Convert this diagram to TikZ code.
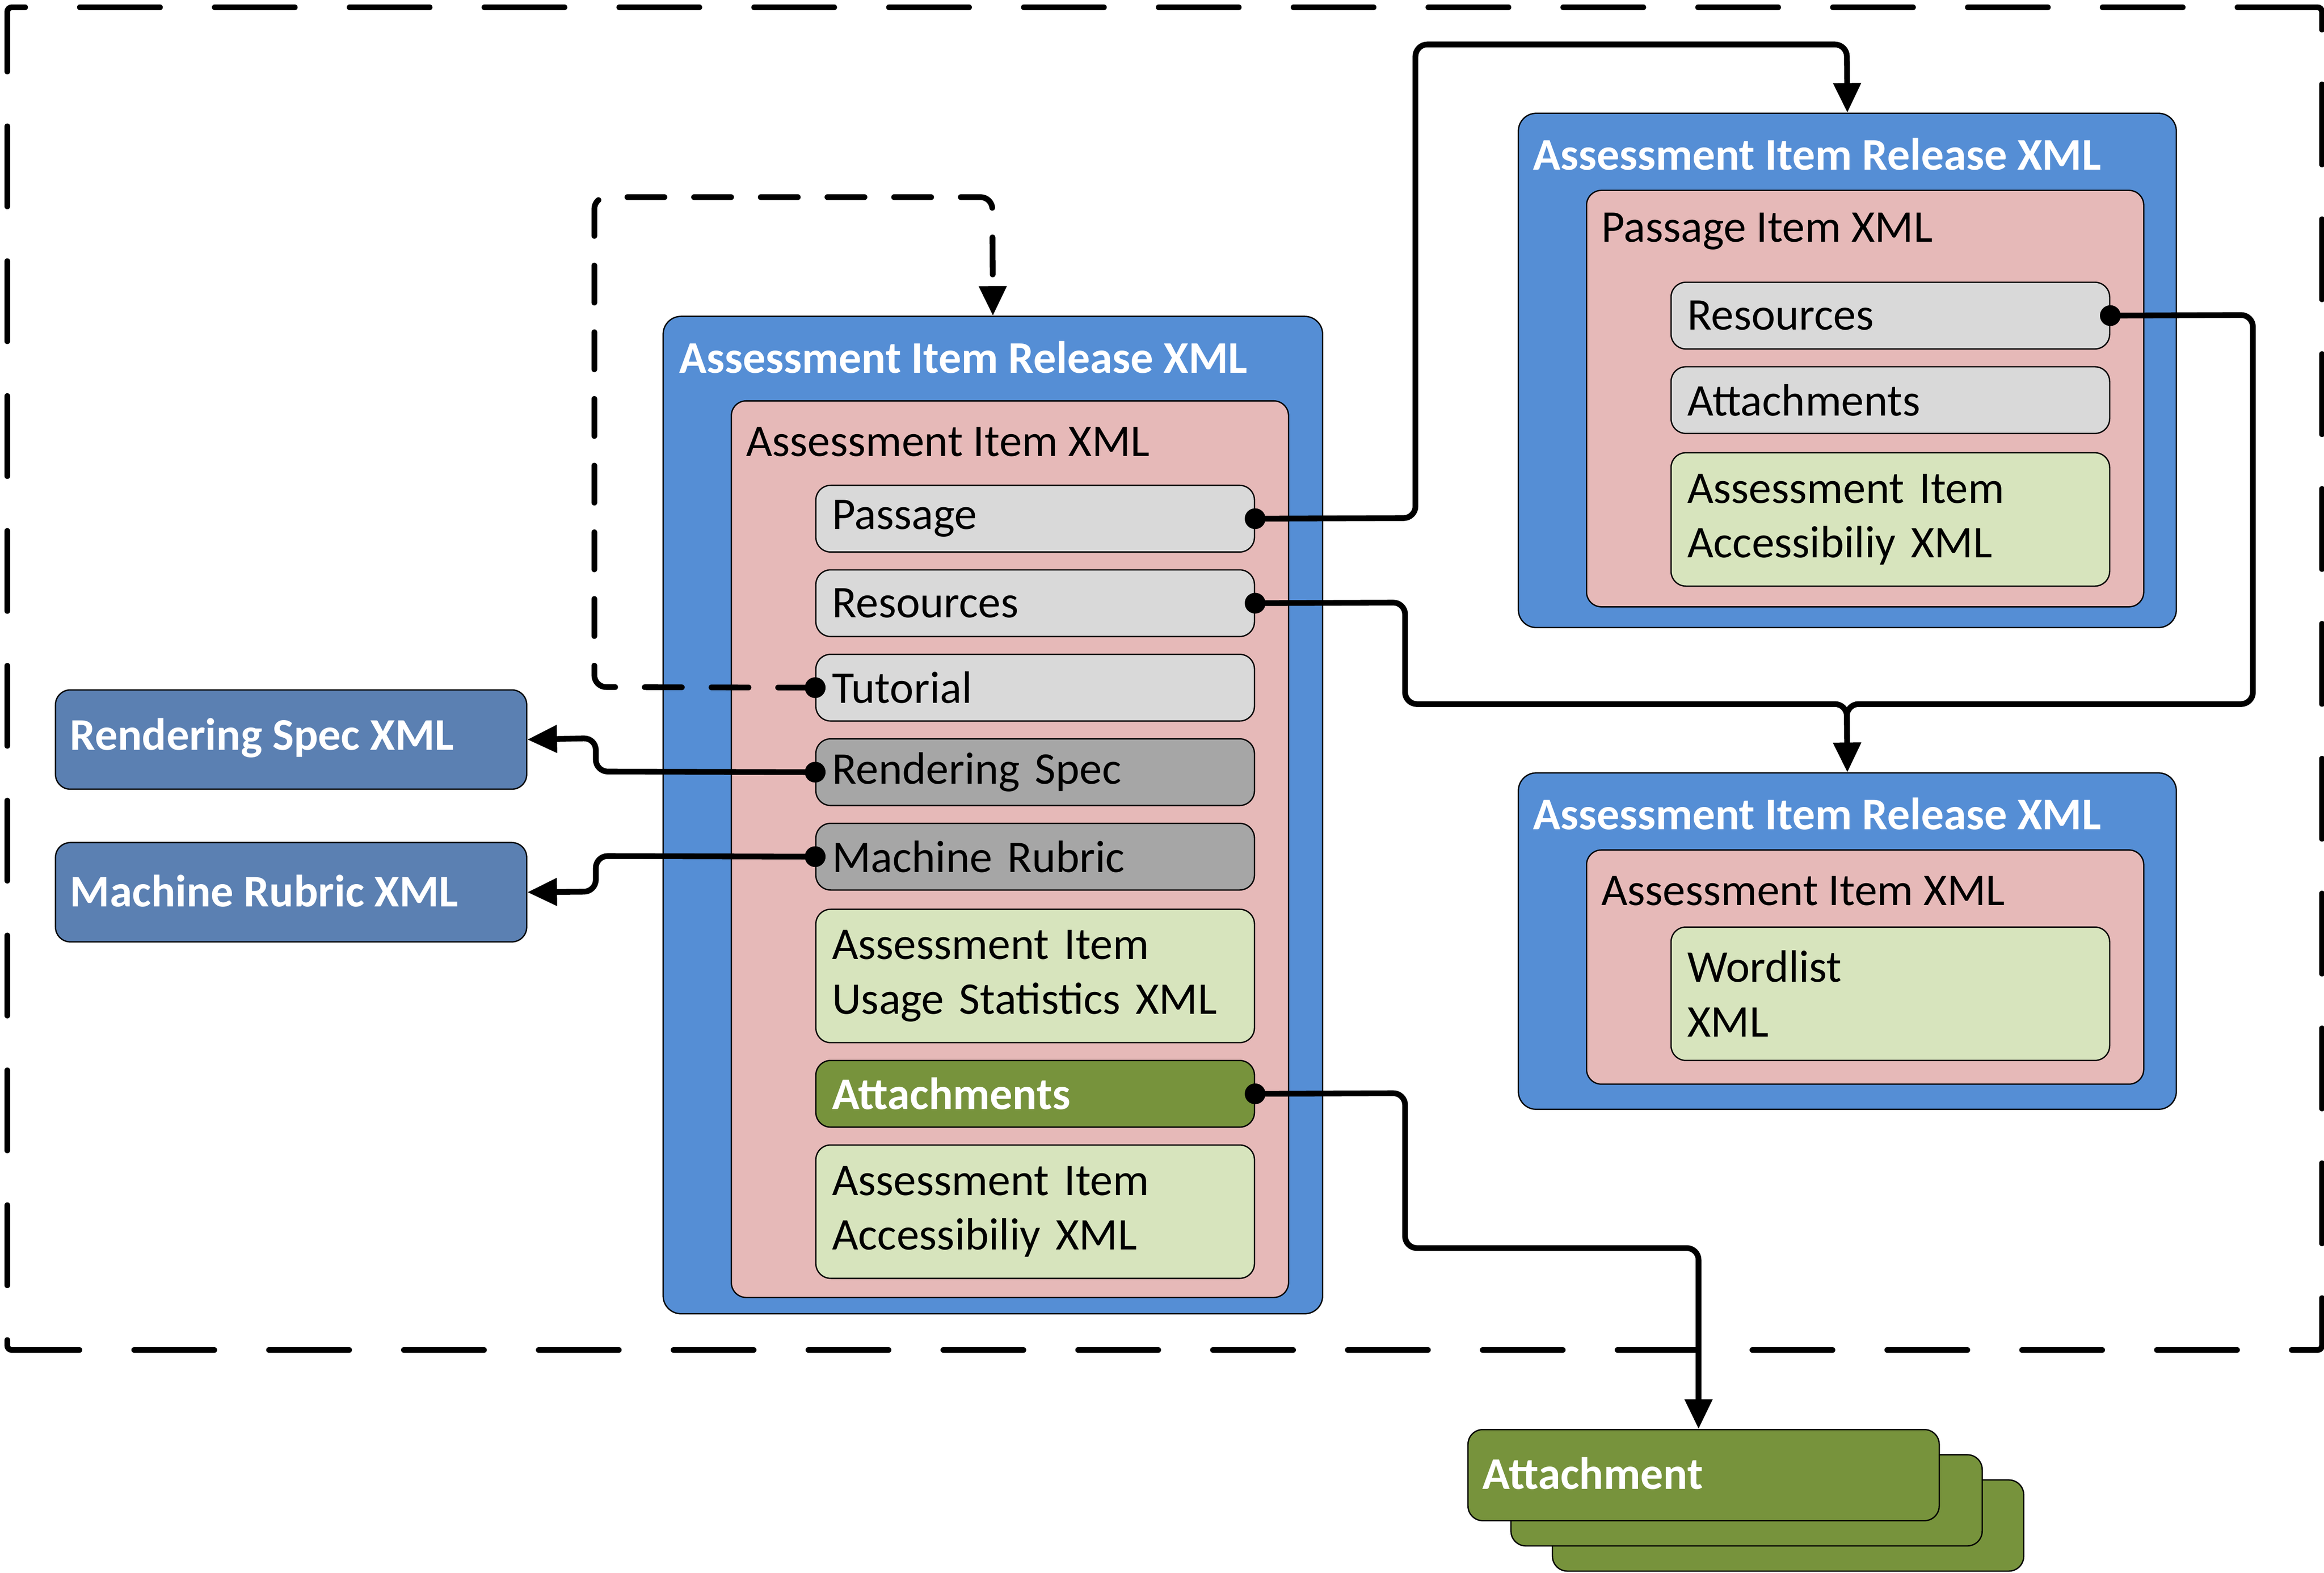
\documentclass[tikz,border=0pt]{standalone}
\usepackage{fontspec}
\setmainfont{Carlito}
\usetikzlibrary{arrows.meta}
\definecolor{relblue}{HTML}{558ED5}
\definecolor{xmlpink}{HTML}{E6B9B8}
\definecolor{itemgray}{HTML}{D9D9D9}
\definecolor{itemdark}{HTML}{A6A6A6}
\definecolor{itemgreen}{HTML}{D7E4BD}
\definecolor{olivegreen}{HTML}{77933C}
\definecolor{extblue}{HTML}{5B80B2}
\begin{document}
\begin{tikzpicture}[x=0.02cm,y=-0.02cm,
  font=\fontsize{17.4}{21}\selectfont,
  boxbase/.style={draw=black, line width=0.5pt, anchor=north west, inner sep=0pt},
  wh/.style 2 args={minimum width=#1, minimum height=#2},
  relbox/.style={boxbase, fill=relblue, rounded corners=0.24cm},
  pinkbox/.style={boxbase, fill=xmlpink, rounded corners=0.2cm},
  item/.style={boxbase, rounded corners=0.2cm, text width=5.48cm, inner xsep=0.22cm,
    minimum width=5.92cm, minimum height=#1, align=left},
  titletext/.style={anchor=west, inner sep=0pt, text=white, font=\fontsize{17.4}{21}\selectfont\bfseries},
  plaintext/.style={anchor=west, inner sep=0pt, text=black},
  extbox/.style={boxbase, fill=extblue, rounded corners=0.2cm, wh={6.36cm}{1.34cm}},
  attbox/.style={boxbase, fill=olivegreen, rounded corners=0.2cm, wh={6.36cm}{1.23cm}},
  conn/.style={line width=2.2pt, rounded corners=0.16cm},
  arr/.style={-{Triangle[length=0.4cm,width=0.36cm]}},
  dotr/.style={radius=0.14cm},
  frame/.style={draw=black, line width=2.2pt, line cap=round, rounded corners=0.06cm,
    dash pattern=on 1.08cm off 0.74cm, anchor=north west, inner sep=0pt}
]
\useasboundingbox (0,0) rectangle (1568,1061);

% outer dashed frame
\node[frame, wh={31.24cm}{18.12cm}] (frm) at (3,3) {};

% ---- central release ----
\node[relbox, wh={8.9cm}{13.46cm}] (relC) at (447,213) {};
\node[titletext] (relCt) at (458,241) {Assessment Item Release XML};
\node[pinkbox, wh={7.52cm}{12.1cm}] (itmC) at (493,270) {};
\node[plaintext] (itmCt) at (503,298) {Assessment Item XML};
\node[item=0.9cm, fill=itemgray] (pas) at (550,327) {Passage};
\node[item=0.9cm, fill=itemgray] (resC) at (550,384) {Resources};
\node[item=0.9cm, fill=itemgray] (tut) at (550,441) {Tutorial};
\node[item=0.9cm, fill=itemdark] (rsp) at (550,498) {Rendering Spec};
\node[item=0.9cm, fill=itemdark] (mrb) at (550,555) {Machine Rubric};
\node[item=1.8cm, fill=itemgreen] (usg) at (550,613) {Assessment Item\\Usage Statistics XML};
\node[item=0.9cm, fill=olivegreen, text=white, font=\fontsize{17.4}{21}\selectfont\bfseries] (attC) at (550,715) {Attachments};
\node[item=1.8cm, fill=itemgreen] (accC) at (550,772) {Assessment Item\\Accessibiliy XML};

% ---- top right release ----
\node[relbox, wh={8.88cm}{6.94cm}] (relT) at (1024,76) {};
\node[titletext] (relTt) at (1034,104) {Assessment Item Release XML};
\node[pinkbox, wh={7.52cm}{5.62cm}] (pasT) at (1070,128) {};
\node[plaintext] (pasTt) at (1080,156) {Passage Item XML};
\node[item=0.9cm, fill=itemgray] (resT) at (1127,190) {Resources};
\node[item=0.9cm, fill=itemgray] (attT) at (1127,247) {Attachments};
\node[item=1.8cm, fill=itemgreen] (accT) at (1127,305) {Assessment Item\\Accessibiliy XML};

% ---- bottom right release ----
\node[relbox, wh={8.88cm}{4.54cm}] (relB) at (1024,521) {};
\node[titletext] (relBt) at (1034,549) {Assessment Item Release XML};
\node[pinkbox, wh={7.52cm}{3.16cm}] (itmB) at (1070,573) {};
\node[plaintext] (itmBt) at (1080,601) {Assessment Item XML};
\node[item=1.8cm, fill=itemgreen] (wrd) at (1127,625) {Wordlist\\XML};

% ---- left external ----
\node[extbox] (rspX) at (37,465) {};
\node[titletext] (rspXt) at (47,498) {Rendering Spec XML};
\node[extbox] (mrbX) at (37,568) {};
\node[titletext] (mrbXt) at (47,601) {Machine Rubric XML};

% ---- attachment stack ----
\node[attbox] (att3) at (1047,998) {};
\node[attbox] (att2) at (1019,981) {};
\node[attbox] (att1) at (990,964) {};
\node[titletext] (att1t) at (1000,994) {Attachment};

% ---- connectors ----
\draw[conn, arr] (pas.east) -- (955,349.5) -- (955,30) -- (1246,30) -- (relT.north);
\draw[conn, arr] (resC.east) -- (948,406.5) -- (948,475) -- (1246,475) -- (relB.north);
\draw[conn, arr] (resT.east) -- (1520,212.5) -- (1520,475) -- (1246,475) -- (relB.north);
\draw[conn, arr, line cap=round, dash pattern=on 0.5cm off 0.4cm] (tut.west) -- (401,463.5) -- (401,133) -- (669.5,133) -- (relC.north);
\draw[conn, arr] (rsp.west) -- (402,520.5) -- (402,498) -- (rspX.east);
\draw[conn, arr] (mrb.west) -- (402,577.5) -- (402,601.5) -- (mrbX.east);
\draw[conn, arr] (attC.east) -- (948,737.5) -- (948,842) -- (1146,842) -- (1146,964);

\fill (pas.east) circle[dotr];
\fill (resC.east) circle[dotr];
\fill (resT.east) circle[dotr];
\fill (tut.west) circle[dotr];
\fill (rsp.west) circle[dotr];
\fill (mrb.west) circle[dotr];
\fill (attC.east) circle[dotr];
\end{tikzpicture}
\end{document}
